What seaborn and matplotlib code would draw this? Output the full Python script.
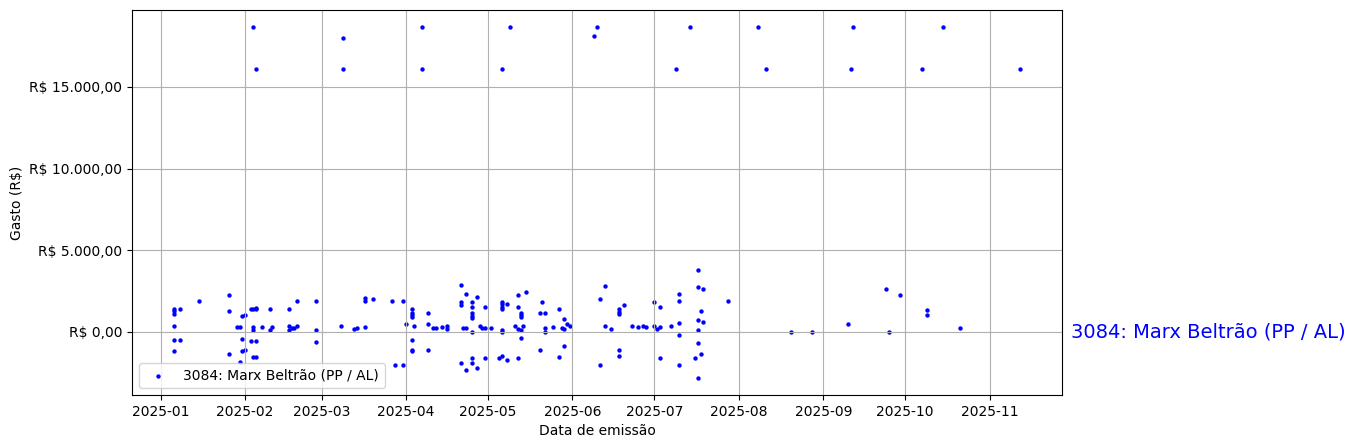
import matplotlib
matplotlib.use("Agg")
import pandas as pd
import seaborn as sns
import matplotlib.pyplot as plt
from matplotlib.ticker import FuncFormatter

# Deputado mostrado no grafico
deputado = "3084: Marx Beltrão (PP / AL)"

# Notas fiscais: data de emissao e valor
datas_jan_fev = ["2025-01-06", "2025-01-08", "2025-01-06", "2025-01-06", "2025-01-06", "2025-01-06",
                 "2025-01-08", "2025-01-06", "2025-01-15", "2025-01-26", "2025-01-26", "2025-01-26",
                 "2025-01-29", "2025-01-30", "2025-01-31", "2025-02-01", "2025-01-31", "2025-01-31",
                 "2025-02-01", "2025-01-30", "2025-02-03", "2025-02-04", "2025-02-05", "2025-02-05",
                 "2025-02-04", "2025-02-04", "2025-02-07", "2025-02-03", "2025-02-05", "2025-02-04",
                 "2025-02-05", "2025-02-10", "2025-02-10", "2025-02-11", "2025-02-17", "2025-02-17",
                 "2025-02-17", "2025-02-18", "2025-02-19", "2025-02-20", "2025-02-20", "2025-02-27",
                 "2025-02-27", "2025-02-27"]
gastos_jan_fev = [1430, 1430, 1250, 1120, 390, -508,
                  -508, -1180, 1920, 2246, 1250, -1323,
                  270, 270, 1000, 1064, -406, -1180,
                  -1120, -1836, 1430, 1430, 1470, 1430,
                  306, 104, 330, -528, -528, -1506,
                  -1506, 1430, 104, 270, 1430, 349,
                  104, 208, 245, 1920, 390, 1920,
                  104, -630]

datas_mar_abr = ["2025-03-08", "2025-03-13", "2025-03-14", "2025-03-17", "2025-03-17", "2025-03-17",
                 "2025-03-20", "2025-03-27", "2025-03-31", "2025-03-28", "2025-03-31", "2025-04-01",
                 "2025-04-03", "2025-04-03", "2025-04-03", "2025-04-03", "2025-04-04", "2025-04-03",
                 "2025-04-03", "2025-04-03", "2025-04-09", "2025-04-09", "2025-04-11", "2025-04-12",
                 "2025-04-09", "2025-04-14", "2025-04-16", "2025-04-16", "2025-04-21", "2025-04-23",
                 "2025-04-21", "2025-04-21", "2025-04-25", "2025-04-25", "2025-04-25", "2025-04-25",
                 "2025-04-25", "2025-04-27", "2025-04-22", "2025-04-23", "2025-04-25", "2025-04-28",
                 "2025-04-29", "2025-04-30", "2025-04-30", "2025-04-21", "2025-04-23", "2025-04-25",
                 "2025-04-25", "2025-04-27", "2025-04-30"]
gastos_mar_abr = [390, 165, 269, 330, 2105, 1920,
                  2044, 1920, 1920, -1996, -1996, 471,
                  1430, 1126, 1022, 918, 390, -508,
                  -1080, -1180, 1144, 471, 269, 269,
                  -1120, 330, 390, 147, 2900, 2290,
                  1860, 1616, 1860, 1554, 1126, 1000,
                  881, 2166, 269, 269, 24, 390,
                  269, 1554, 269, -1934, -2362, -1628,
                  -1934, -2240, -1628]

datas_mai = ["2025-05-02", "2025-05-06", "2025-05-06", "2025-05-06", "2025-05-06", "2025-05-08",
             "2025-05-06", "2025-05-06", "2025-05-05", "2025-05-06", "2025-05-08", "2025-05-12",
             "2025-05-15", "2025-05-12", "2025-05-13", "2025-05-13", "2025-05-13", "2025-05-11",
             "2025-05-14", "2025-05-12", "2025-05-13", "2025-05-13", "2025-05-12", "2025-05-21",
             "2025-05-20", "2025-05-22", "2025-05-22", "2025-05-22", "2025-05-25", "2025-05-20",
             "2025-05-27", "2025-05-29", "2025-05-30", "2025-05-28", "2025-05-29", "2025-05-31",
             "2025-05-29", "2025-05-27"]
gastos_mai = [208, 1860, 1677, 1554, 1371, 1738,
              86, 24, -1628, -1445, -1750, 2228,
              2470, 1554, 1165, 1064, 942, 390,
              390, 147, 86, -343, -1628, 1800,
              1126, 1126, 269, 24, 330, -1120,
              1430, 759, 453, 269, 147, 390,
              -833, -1506]

datas_jun_jul = ["2025-06-13", "2025-06-11", "2025-06-20", "2025-06-18", "2025-06-18", "2025-06-18",
                 "2025-06-13", "2025-06-15", "2025-06-23", "2025-06-25", "2025-06-27", "2025-06-28",
                 "2025-07-01", "2025-07-01", "2025-07-02", "2025-07-03", "2025-07-03", "2025-06-18",
                 "2025-06-18", "2025-06-11", "2025-07-03", "2025-07-07", "2025-07-10", "2025-07-10",
                 "2025-07-10", "2025-07-10", "2025-07-10", "2025-07-17", "2025-07-17", "2025-07-19",
                 "2025-07-18", "2025-07-17", "2025-07-19", "2025-07-17", "2025-07-17", "2025-07-18",
                 "2025-07-16", "2025-07-17", "2025-07-28"]
gastos_jun_jul = [2779, 1983, 1616, 1371, 1224, 1083,
                  390, 147, 390, 330, 390, 330,
                  1860, 390, 147, 1554, 330, -1120,
                  -1445, -2056, -1628, 390, 2290, 1920,
                  575, -220, -1996, 3758, 2718, 2595,
                  1250, 698, 636, 86, -710, -1323,
                  -1628, -2791, 1920]

datas_ago_nov = ["2025-08-20", "2025-08-28", "2025-09-10", "2025-09-24", "2025-09-25", "2025-09-29",
                 "2025-10-09", "2025-10-09", "2025-10-21"]
gastos_ago_nov = [15, 24, 453, 2656, 15, 2228,
                  1310, 1064, 208]

# Valores altos (topo do grafico)
datas_altas = ["2025-02-04", "2025-02-05", "2025-03-09", "2025-03-09", "2025-04-07", "2025-04-07",
               "2025-05-09", "2025-05-06", "2025-06-10", "2025-06-09", "2025-07-14", "2025-07-09",
               "2025-08-08", "2025-08-11", "2025-09-12", "2025-09-11", "2025-10-15", "2025-10-07",
               "2025-11-12"]
gastos_altos = [18630, 16120, 18017, 16120, 18630, 16120,
                18630, 16120, 18630, 18140, 18630, 16120,
                18630, 16120, 18630, 16120, 18630, 16120,
                16120]

datas = datas_jan_fev + datas_mar_abr + datas_mai + datas_jun_jul + datas_ago_nov + datas_altas
gastos = gastos_jan_fev + gastos_mar_abr + gastos_mai + gastos_jun_jul + gastos_ago_nov + gastos_altos

df = pd.DataFrame({"data": pd.to_datetime(datas), "gasto": gastos})


# Formato de moeda brasileira
def formata_real(v, pos):
    s = f"{v:,.2f}".replace(",", "X").replace(".", ",").replace("X", ".")
    return "R\\$ " + s


fig = plt.figure(figsize=(13.55, 4.48), dpi=100)
ax = fig.add_axes([132 / 1355, 53 / 448, 930 / 1355, 385 / 448])

sns.scatterplot(data=df, x="data", y="gasto", color="blue", s=10, linewidth=0,
                label=deputado, ax=ax)

ax.yaxis.set_major_formatter(FuncFormatter(formata_real))
ax.set_xlabel("Data de emissão")
ax.set_ylabel("Gasto (R\\$)")
ax.grid(True)
ax.legend(loc="lower left")

# Nome do deputado ao lado do grafico, na altura do zero
ax.text(1.01, 0, deputado, transform=ax.get_yaxis_transform(), color="blue",
        fontsize=14, va="center", ha="left")

fig.savefig("out.png", dpi=100)
